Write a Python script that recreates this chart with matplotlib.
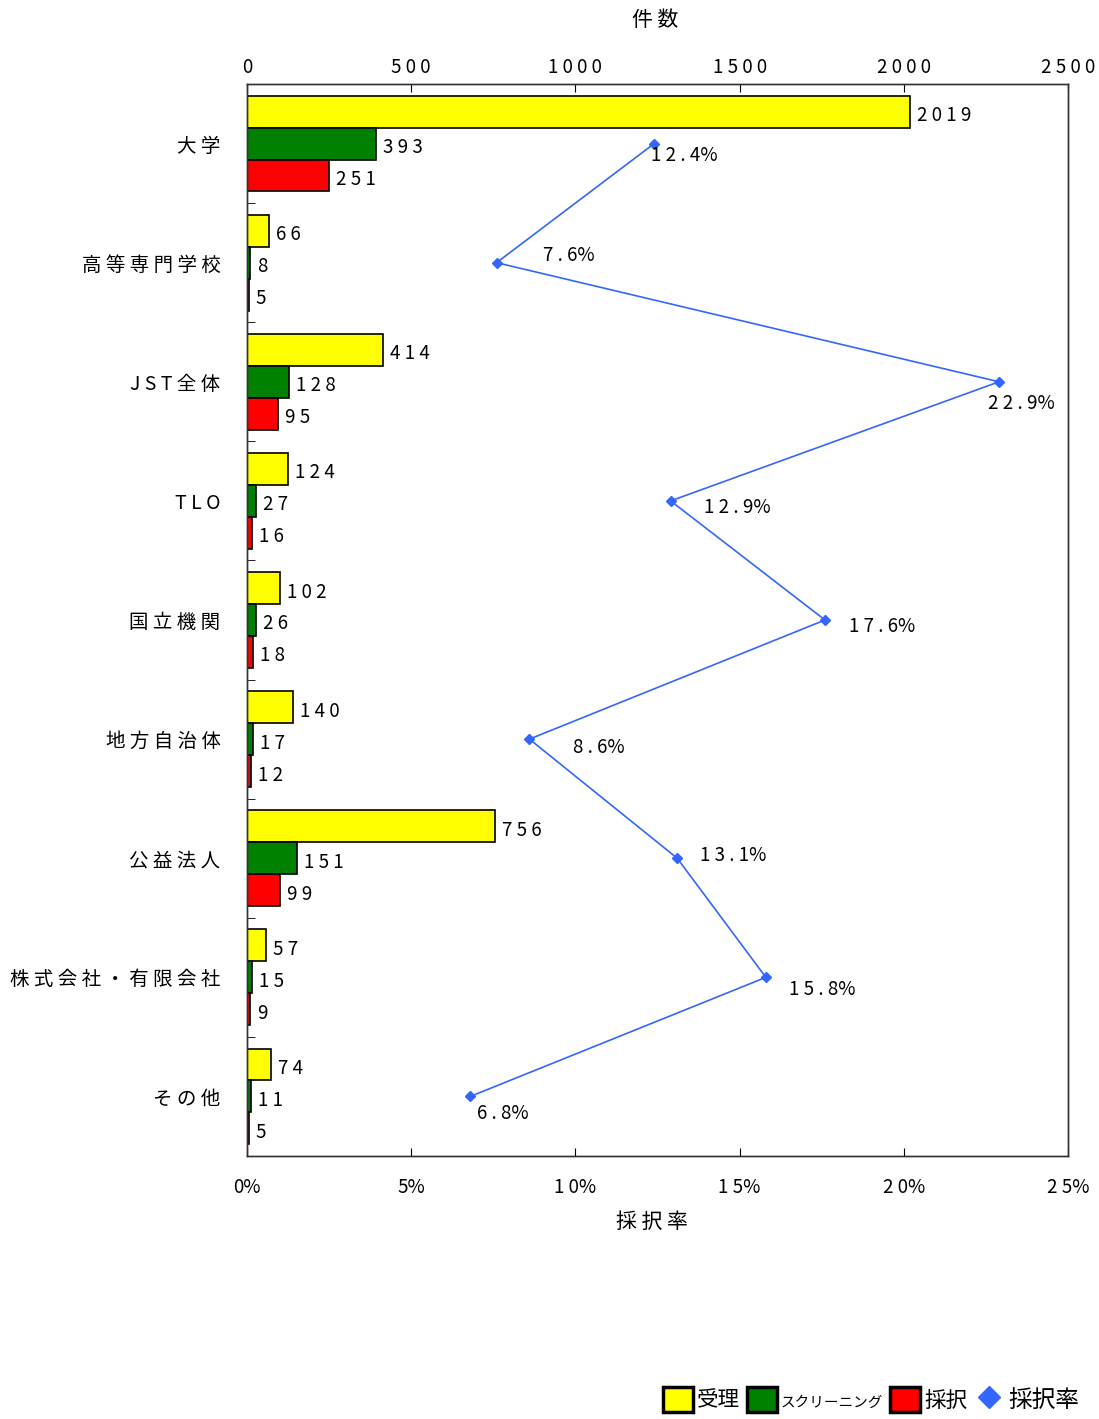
import matplotlib
matplotlib.use("Agg")
import matplotlib.pyplot as plt
from matplotlib.patches import Patch
from matplotlib.lines import Line2D
from matplotlib.ticker import FixedLocator

plt.rcParams['font.family'] = ['Noto Sans CJK JP', 'DejaVu Sans']

categories = ["大学", "高等専門学校", "JST全体", "TLO", "国立機関", "地方自治体", "公益法人", "株式会社・有限会社", "その他"]
received = [2019, 66, 414, 124, 102, 140, 756, 57, 74]
screening = [393, 8, 128, 27, 26, 17, 151, 15, 11]
adopted = [251, 5, 95, 16, 18, 12, 99, 9, 5]
rate = [12.4, 7.6, 22.9, 12.9, 17.6, 8.6, 13.1, 15.8, 6.8]
count_ticks = [0, 500, 1000, 1500, 2000, 2500]
rate_ticks = [0, 5, 10, 15, 20, 25]

# label offsets (pixels) for rate annotations
rate_offsets = [(-3, -12), (46, 7), (-11, -22), (33, -7), (24, -7), (44, -8), (23, 3), (23, -12), (7, -17)]

def spaced(s):
    return " ".join(list(s))

NUMFS = 13.5
fig = plt.figure(figsize=(10.99, 14.19), dpi=100)
W, H = 1099, 1419
ax = fig.add_axes([247 / W, 1 - 1156 / H, (1068 - 247) / W, (1156 - 84) / H])
ax2 = ax.twiny()

h = 0.268
ys = list(range(len(categories)))
series = [(received, "#FFFF00", -h), (screening, "#008000", 0), (adopted, "#FF0000", h)]
for vals, col, off in series:
    yy = [y + off for y in ys]
    ax.barh(yy, vals, height=h, color=col, edgecolor="black", linewidth=1.2, zorder=2)
    for y, v in zip(yy, vals):
        ax.annotate(spaced(str(v)), (v, y), xytext=(7, -4), textcoords="offset pixels",
                    va="center", ha="left", fontsize=NUMFS)

ax.set_xlim(0, 2500)
ax.set_ylim(len(categories) - 0.5, -0.5)
ax.xaxis.tick_top()
ax.set_xticks(count_ticks)
ax.set_xticklabels([spaced(str(t)) for t in count_ticks], fontsize=NUMFS)
ax.tick_params(axis="x", direction="in", length=6, pad=4)
ax.set_yticks(ys)
ax.set_yticklabels([spaced(c) for c in categories], fontsize=14)
ax.tick_params(axis="y", length=0, pad=19)
ax.yaxis.set_minor_locator(FixedLocator([y + 0.5 for y in ys[:-1]]))
ax.tick_params(axis="y", which="minor", direction="in", length=6)

ax2.xaxis.tick_bottom()
ax2.set_xlim(0, 25)
ax2.set_xticks(rate_ticks)
ax2.set_xticklabels([spaced(str(t)) + "%" for t in rate_ticks], fontsize=NUMFS)
ax2.tick_params(axis="x", direction="in", length=6, pad=15)
ax2.plot(rate, ys, color="#3366FF", marker="D", markersize=5, linewidth=1.2, zorder=3)
for r, y, off in zip(rate, ys, rate_offsets):
    ax2.annotate(spaced(f"{r:.1f}") + "%", (r, y), xytext=off, textcoords="offset pixels",
                 va="center", ha="left", fontsize=NUMFS)

fig.text(655 / W, 1 - 20 / H, "件 数", ha="center", va="center", fontsize=15)
fig.text(652 / W, 1 - 1222 / H, "採 択 率", ha="center", va="center", fontsize=15)

for a in (ax, ax2):
    for s in a.spines.values():
        s.set_color("#333333")
        s.set_linewidth(1.0)

handles = [Patch(facecolor="#FFFF00", edgecolor="black", linewidth=2.5),
           Patch(facecolor="#008000", edgecolor="black", linewidth=2.5),
           Patch(facecolor="#FF0000", edgecolor="black", linewidth=2.5),
           Line2D([], [], color="#3366FF", marker="D", linestyle="none", markersize=11)]
labels = ["受理", "スクリーニング", "採択", "採択率"]
leg = fig.legend(handles, labels, loc="lower right", bbox_to_anchor=(1092 / W, -6 / H), ncol=4,
                 frameon=False, fontsize=15.5, handlelength=1.4, handleheight=1.4,
                 handletextpad=0.2, columnspacing=0.3, borderpad=0.1)
leg.get_texts()[1].set_fontsize(10.5)
leg.get_texts()[3].set_fontsize(17)

fig.savefig("out.png", dpi=100)
